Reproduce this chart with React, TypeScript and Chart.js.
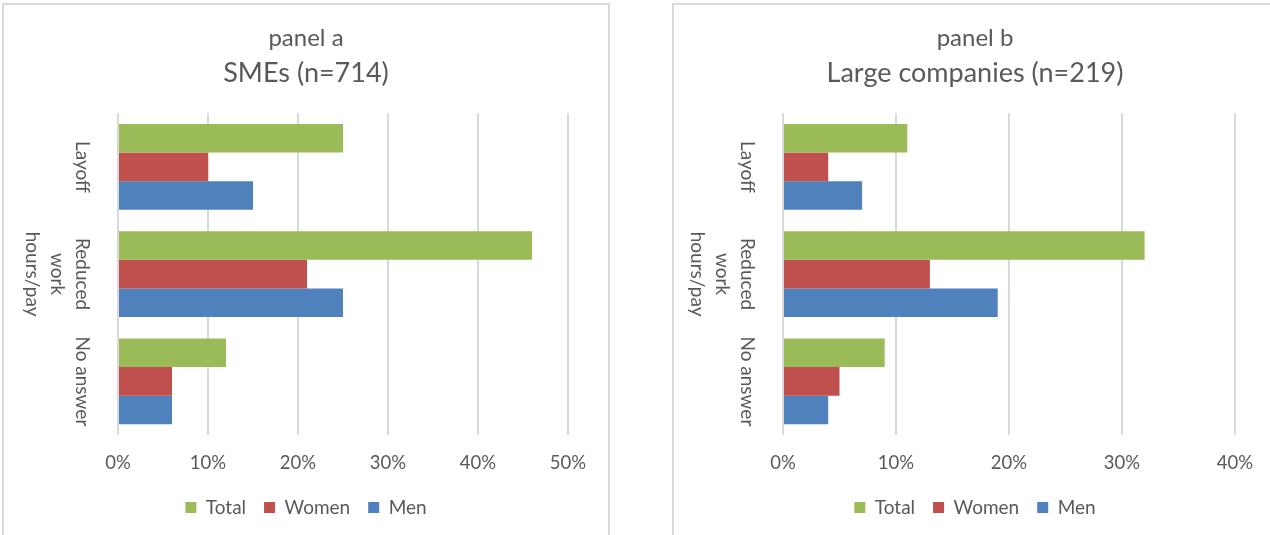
import React, { useEffect, useRef } from 'react';
import { Chart, registerables } from 'chart.js';

Chart.register(...registerables);

// ---- data ----
const categories: string[][] = [['Layoff'], ['Reduced', 'work', 'hours/pay'], ['No answer']];
const seriesNames = ['Total', 'Women', 'Men'];
const smeTotal = [25, 46, 12];
const smeWomen = [10, 21, 6];
const smeMen = [15, 25, 6];
const largeTotal = [11, 32, 9];
const largeWomen = [4, 13, 5];
const largeMen = [7, 19, 4];
const smeMax = 50;
const largeMax = 40;
const tickStep = 10;

const seriesColors = ['#9BBB59', '#C0504D', '#4F81BD'];
const TEXT = '#595959';
const GRID = '#D9D9D9';
const FONT = 'Lato';

type PanelProps = {
  left: number;
  width: number;
  title: string;
  subtitle: string;
  series: number[][];
  max: number;
  axisLeft: number;
  axisRight: number;
};

function Panel({ left, width, title, subtitle, series, max, axisLeft, axisRight }: PanelProps) {
  const ref = useRef<HTMLCanvasElement | null>(null);
  const innerW = width - 4;
  const H = 530;

  useEffect(() => {
    if (!ref.current) return;
    const catLabels = {
      id: 'catLabels',
      afterDraw(chart: any) {
        const s = chart.scales.y;
        const ctx = chart.ctx;
        ctx.save();
        ctx.fillStyle = TEXT;
        ctx.font = `19px ${FONT}`;
        ctx.textAlign = 'center';
        ctx.textBaseline = 'top';
        categories.forEach((lines, i) => {
          const y = s.getPixelForValue(i);
          ctx.save();
          ctx.translate(chart.chartArea.left - 26, y);
          ctx.rotate(Math.PI / 2);
          lines.forEach((t, j) => ctx.fillText(t, 0, j * 25));
          ctx.restore();
        });
        ctx.restore();
      },
    };
    const chart = new Chart(ref.current, {
      type: 'bar',
      data: {
        labels: categories.map((l) => l.join(' ')),
        datasets: series.map((d, i) => ({
          label: seriesNames[i],
          data: d,
          backgroundColor: seriesColors[i],
          borderWidth: 0,
          barPercentage: 1,
          categoryPercentage: 0.8,
          xAxisID: 'x',
          yAxisID: 'y',
        })),
      },
      options: {
        indexAxis: 'y',
        responsive: false,
        animation: false,
        layout: { padding: { top: 0, bottom: 8, left: 0, right: 0 } },
        scales: {
          x: {
            type: 'linear',
            min: 0,
            max,
            ticks: {
              stepSize: tickStep,
              callback: (v: any) => `${v}%`,
              color: TEXT,
              font: { family: FONT, size: 18.5 },
              padding: 17,
            },
            grid: { color: GRID, lineWidth: 2, drawTicks: false },
            border: { display: false },
            afterFit: (s: any) => {
              s.height = 45;
            },
          },
          y: {
            type: 'category',
            position: 'left',
            ticks: { display: false },
            grid: { display: false },
            border: { display: false },
            afterFit: (s: any) => {
              s.width = axisLeft;
            },
          },
          yR: {
            type: 'linear',
            position: 'right',
            ticks: { display: false },
            grid: { display: false },
            border: { display: false },
            afterFit: (s: any) => {
              s.width = axisRight;
            },
          },
        },
        plugins: {
          title: {
            display: true,
            text: title,
            color: TEXT,
            font: { family: FONT, size: 24, weight: 'normal' },
            padding: { top: 19, bottom: 0 },
          },
          subtitle: {
            display: true,
            text: subtitle,
            color: TEXT,
            font: { family: FONT, size: 27, weight: 'normal' },
            padding: { top: 4, bottom: 24 },
          },
          legend: {
            position: 'bottom',
            labels: {
              boxWidth: 11,
              boxHeight: 11,
              padding: 18,
              color: TEXT,
              font: { family: FONT, size: 19 },
            },
          },
          tooltip: { enabled: false },
        },
      },
      plugins: [catLabels],
    } as any);
    return () => chart.destroy();
  }, []);

  return (
    <div
      style={{
        position: 'absolute',
        left,
        top: 3,
        width,
        height: 560,
        boxSizing: 'border-box',
        border: `2px solid ${GRID}`,
        background: '#fff',
      }}
    >
      <canvas ref={ref} width={innerW} height={H} style={{ display: 'block', width: innerW, height: H }} />
    </div>
  );
}

export default function App() {
  return (
    <div
      style={{
        position: 'absolute',
        left: 0,
        top: 0,
        width: 1270,
        height: 535,
        overflow: 'hidden',
        background: '#fff',
        fontFamily: FONT,
      }}
    >
      <Panel
        left={2}
        width={608}
        title="panel a"
        subtitle="SMEs (n=714)"
        series={[smeTotal, smeWomen, smeMen]}
        max={smeMax}
        axisLeft={114}
        axisRight={40}
      />
      <Panel
        left={672}
        width={606}
        title="panel b"
        subtitle="Large companies (n=219)"
        series={[largeTotal, largeWomen, largeMen]}
        max={largeMax}
        axisLeft={109}
        axisRight={41}
      />
    </div>
  );
}
